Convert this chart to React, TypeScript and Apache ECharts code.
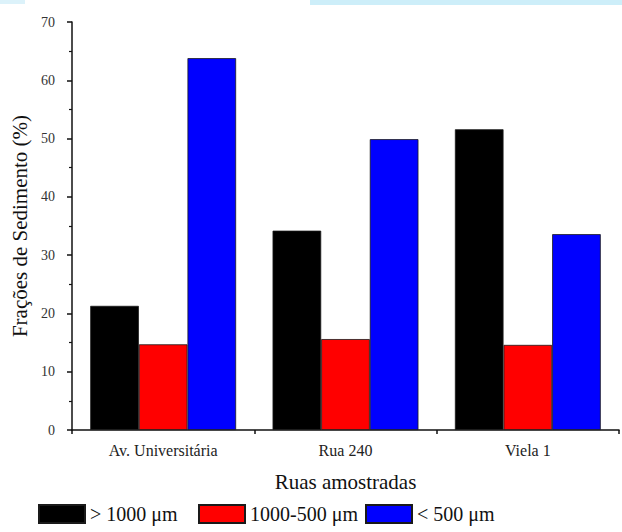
import React, { useEffect, useRef } from "react";
import * as echarts from "echarts";

const categories = ["Av. Universitária", "Rua 240", "Viela 1"];
const seriesNames = ["> 1000 μm", "1000-500 μm", "< 500 μm"];
const coarse = [21.3, 34.2, 51.6];
const medium = [14.7, 15.6, 14.6];
const fine = [63.8, 49.9, 33.6];
const colors = ["#000000", "#ff0000", "#0000ff"];
const yTicks = [0, 10, 20, 30, 40, 50, 60, 70];

const FONT = "Times New Roman, Liberation Serif, serif";

export default function App() {
  const ref = useRef<HTMLDivElement>(null);
  useEffect(() => {
    if (!ref.current) return;
    const chart = echarts.init(ref.current, undefined, { renderer: "svg" });
    const values = [coarse, medium, fine];
    const legendLefts = [38, 198, 365];
    chart.setOption({
      animation: false,
      backgroundColor: "#ffffff",
      textStyle: { fontFamily: FONT },
      graphic: [
        { type: "rect", left: 310, top: 0, shape: { width: 312, height: 5 }, style: { fill: "#cdeef9" } },
        { type: "rect", left: 0, top: 0, shape: { width: 25, height: 4 }, style: { fill: "#dcf2fa" } },
      ],
      legend: seriesNames.map((n, i) => ({
        data: [n],
        left: legendLefts[i],
        top: 504,
        itemWidth: 46,
        itemHeight: 18,
        itemGap: 0,
        padding: 0,
        icon: "rect",
        selectedMode: false,
        textStyle: { fontFamily: FONT, fontSize: 20, color: "#111" },
      })),
      grid: { left: 72, right: 3, top: 22, bottom: 102, containLabel: false },
      xAxis: [
        {
          type: "category",
          data: categories,
          name: "Ruas amostradas",
          nameLocation: "middle",
          nameGap: 41,
          nameTextStyle: { fontFamily: FONT, fontSize: 21, color: "#111" },
          axisLine: { lineStyle: { color: "#111", width: 1.5 } },
          axisTick: { alignWithLabel: true, length: 6, lineStyle: { color: "#111", width: 1.5 } },
          axisLabel: { fontFamily: FONT, fontSize: 16, color: "#222", margin: 12 },
        },
        {
          type: "category",
          data: categories,
          position: "bottom",
          axisLine: { show: false },
          axisTick: { show: true, length: 4, lineStyle: { color: "#111", width: 1.5 } },
          axisLabel: { show: false },
        },
      ],
      yAxis: {
        type: "value",
        min: 0,
        max: 70,
        interval: 10,
        name: "Frações de Sedimento (%)",
        nameLocation: "middle",
        nameGap: 38,
        nameTextStyle: { fontFamily: FONT, fontSize: 21, color: "#111" },
        axisLine: { show: true, lineStyle: { color: "#111", width: 1.5 } },
        axisTick: { show: true, length: 5, lineStyle: { color: "#111", width: 1.5 } },
        minorTick: { show: true, splitNumber: 2, length: 3, lineStyle: { color: "#111", width: 1.2 } },
        splitLine: { show: false },
        axisLabel: {
          fontFamily: FONT,
          fontSize: 14,
          color: "#333",
          margin: 17,
          formatter: (v: number) => (yTicks.includes(v) ? String(v) : ""),
        },
      },
      series: seriesNames.map((n, i) => ({
        name: n,
        type: "bar",
        data: values[i],
        barGap: "0%",
        barCategoryGap: "20%",
        itemStyle: { color: colors[i], borderColor: "#1a1a1a", borderWidth: 0.8 },
      })),
    });
    return () => chart.dispose();
  }, []);
  return (
    <div
      ref={ref}
      style={{ position: "fixed", left: 0, top: 0, width: 622, height: 532, background: "#fff" }}
    />
  );
}
